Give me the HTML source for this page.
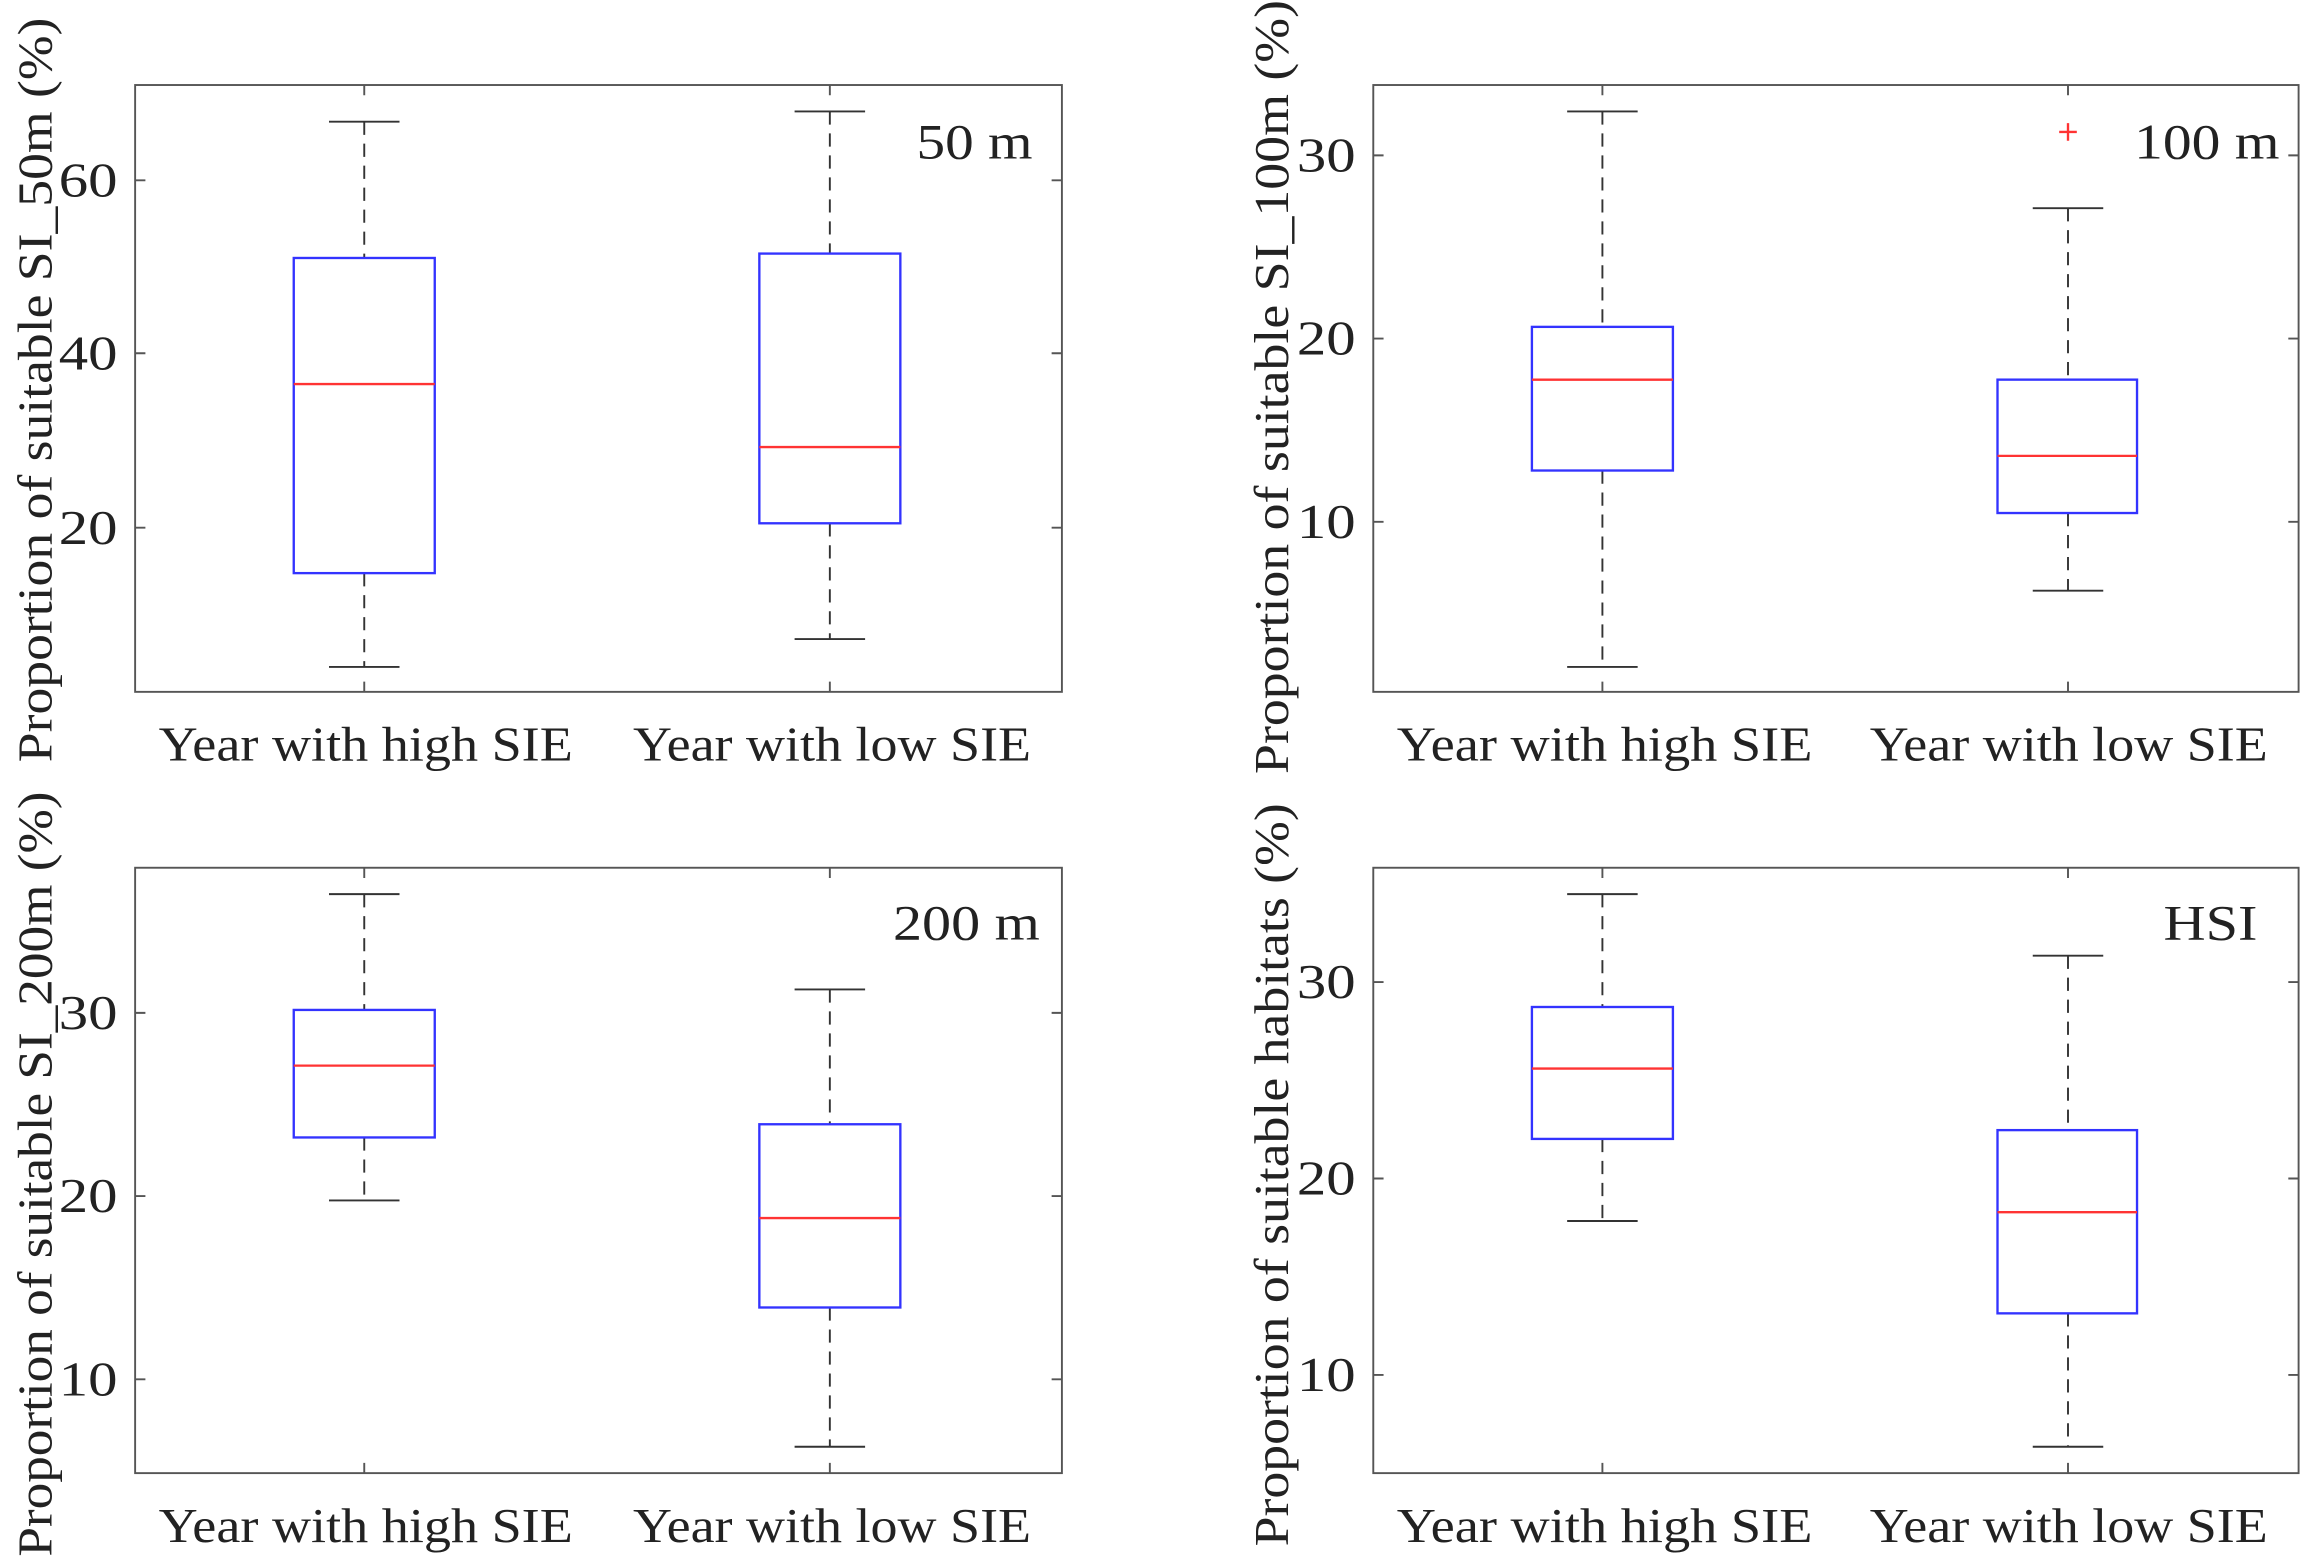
<!DOCTYPE html>
<html><head><meta charset="utf-8"><style>
html,body{margin:0;padding:0;background:#fff;}
svg{display:block;}
text{font-family:"Liberation Serif","Times New Roman",serif;fill:#222;}
</style></head><body>
<svg width="2303" height="1564" viewBox="0 0 1568 1067" preserveAspectRatio="none" xmlns="http://www.w3.org/2000/svg">
<g stroke="#555" stroke-width="1.3" fill="none">
<rect x="92" y="58" width="631" height="414"/>
<rect x="935" y="58" width="630" height="414"/>
<rect x="92" y="592" width="631" height="413"/>
<rect x="935" y="592" width="630" height="413"/>
</g>
<g stroke="#555" stroke-width="1.3">
<path d="M92 123h7M92 241h7M92 360h7M723 123h-7M723 241h-7M723 360h-7M248 472v-7M565 472v-7M248 58v7M565 58v7"/>
<path d="M935 106h7M935 231h7M935 356h7M1565 106h-7M1565 231h-7M1565 356h-7M1091 472v-7M1408 472v-7M1091 58v7M1408 58v7"/>
<path d="M92 691h7M92 816h7M92 941h7M723 691h-7M723 816h-7M723 941h-7M248 1005v-7M565 1005v-7M248 592v7M565 592v7"/>
<path d="M935 670h7M935 804h7M935 938h7M1565 670h-7M1565 804h-7M1565 938h-7M1091 1005v-7M1408 1005v-7M1091 592v7M1408 592v7"/>
</g>
<g stroke="#333" stroke-width="1.3" stroke-dasharray="9,6">
<path d="M248 83V176M248 391V455M565 76V173M565 357V436"/>
<path d="M1091 76V223M1091 321V455M1408 142V259M1408 350V403"/>
<path d="M248 610V689M248 776V819M565 675V767M565 892V987"/>
<path d="M1091 610V687M1091 777V833M1408 652V771M1408 896V987"/>
</g>
<g stroke="#333" stroke-width="1.3">
<path d="M224 83h48M224 455h48M541 76h48M541 436h48"/>
<path d="M1067 76h48M1067 455h48M1384 142h48M1384 403h48"/>
<path d="M224 610h48M224 819h48M541 675h48M541 987h48"/>
<path d="M1067 610h48M1067 833h48M1384 652h48M1384 987h48"/>
</g>
<g stroke="#3333ff" stroke-width="1.6" fill="none">
<rect x="200" y="176" width="96" height="215"/><rect x="517" y="173" width="96" height="184"/>
<rect x="1043" y="223" width="96" height="98"/><rect x="1360" y="259" width="95" height="91"/>
<rect x="200" y="689" width="96" height="87"/><rect x="517" y="767" width="96" height="125"/>
<rect x="1043" y="687" width="96" height="90"/><rect x="1360" y="771" width="95" height="125"/>
</g>
<g stroke="#ff3333" stroke-width="1.6">
<path d="M200 262h96M517 305h96M1043 259h96M1360 311h95M200 727h96M517 831h96M1043 729h96M1360 827h95"/>
<path d="M1402 90h12M1408 84v12"/>
</g>
<g font-size="33" lengthAdjust="spacingAndGlyphs">
<text x="40" y="134" textLength="40" lengthAdjust="spacingAndGlyphs">60</text><text x="40" y="252" textLength="40" lengthAdjust="spacingAndGlyphs">40</text><text x="40" y="371" textLength="40" lengthAdjust="spacingAndGlyphs">20</text>
<text x="883" y="117" textLength="40" lengthAdjust="spacingAndGlyphs">30</text><text x="883" y="242" textLength="40" lengthAdjust="spacingAndGlyphs">20</text><text x="883" y="367" textLength="40" lengthAdjust="spacingAndGlyphs">10</text>
<text x="40" y="702" textLength="40" lengthAdjust="spacingAndGlyphs">30</text><text x="40" y="827" textLength="40" lengthAdjust="spacingAndGlyphs">20</text><text x="40" y="952" textLength="40" lengthAdjust="spacingAndGlyphs">10</text>
<text x="883" y="681" textLength="40" lengthAdjust="spacingAndGlyphs">30</text><text x="883" y="815" textLength="40" lengthAdjust="spacingAndGlyphs">20</text><text x="883" y="949" textLength="40" lengthAdjust="spacingAndGlyphs">10</text>
</g>
<g font-size="33">
<text x="108" y="519" textLength="282" lengthAdjust="spacingAndGlyphs">Year with high SIE</text><text x="431" y="519" textLength="271" lengthAdjust="spacingAndGlyphs">Year with low SIE</text>
<text x="951" y="519" textLength="283" lengthAdjust="spacingAndGlyphs">Year with high SIE</text><text x="1273" y="519" textLength="271" lengthAdjust="spacingAndGlyphs">Year with low SIE</text>
<text x="108" y="1052" textLength="282" lengthAdjust="spacingAndGlyphs">Year with high SIE</text><text x="431" y="1052" textLength="271" lengthAdjust="spacingAndGlyphs">Year with low SIE</text>
<text x="951" y="1052" textLength="283" lengthAdjust="spacingAndGlyphs">Year with high SIE</text><text x="1273" y="1052" textLength="271" lengthAdjust="spacingAndGlyphs">Year with low SIE</text>
</g>
<g font-size="34">
<text x="624" y="108" textLength="79" lengthAdjust="spacingAndGlyphs">50 m</text><text x="1453" y="108" textLength="99" lengthAdjust="spacingAndGlyphs">100 m</text>
<text x="608" y="641" textLength="100" lengthAdjust="spacingAndGlyphs">200 m</text><text x="1473" y="641" textLength="64" lengthAdjust="spacingAndGlyphs">HSI</text>
</g>
<g font-size="33">
<text transform="translate(35,520) rotate(-90)" textLength="508" lengthAdjust="spacingAndGlyphs">Proportion of suitable SI_50m (%)</text>
<text transform="translate(877,528) rotate(-90)" textLength="528" lengthAdjust="spacingAndGlyphs">Proportion of suitable SI_100m (%)</text>
<text transform="translate(35,1062) rotate(-90)" textLength="522" lengthAdjust="spacingAndGlyphs">Proportion of suitable SI_200m (%)</text>
<text transform="translate(877,1055) rotate(-90)" textLength="507" lengthAdjust="spacingAndGlyphs">Proportion of suitable habitats (%)</text>
</g>
</svg>
</body></html>
